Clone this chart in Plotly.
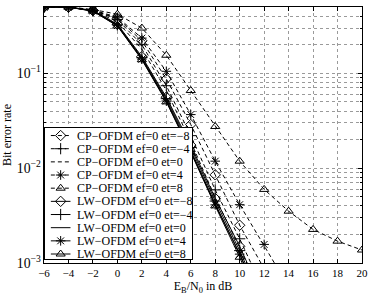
import math
import plotly.graph_objects as go

ebn0 = [-6, -4, -2, 0, 2, 4, 6, 8, 10, 12, 14, 16, 18, 20]

cp_et_m8 = [0.5, 0.5, 0.46, 0.38, 0.22, 0.0873, 0.0288, 0.0085, 0.0025, 0.00087]
cp_et_m4 = [0.5, 0.5, 0.46, 0.37, 0.20, 0.074, 0.022, 0.0059, 0.0018, 0.0005]
cp_et_0 = [0.5, 0.5, 0.458, 0.35, 0.18, 0.066, 0.019, 0.0049, 0.00145, 0.0004]
cp_et_4 = [0.5, 0.5, 0.465, 0.39, 0.235, 0.105, 0.0367, 0.01185, 0.00412, 0.00157, 0.00056]
cp_et_8 = [0.5, 0.5, 0.47, 0.42, 0.30, 0.155, 0.0658, 0.0275, 0.01185, 0.00597,
           0.00352, 0.00226, 0.0017, 0.00137]

lw_et_m8 = [0.5, 0.5, 0.46, 0.33, 0.15, 0.056, 0.0175, 0.0048, 0.0015, 0.0004]
lw_et_m4 = [0.5, 0.5, 0.457, 0.325, 0.146, 0.054, 0.0165, 0.0045, 0.00135, 0.00035]
lw_et_0 = [0.5, 0.499, 0.455, 0.32, 0.143, 0.052, 0.0155, 0.0042, 0.00125, 0.00032]
lw_et_4 = [0.5, 0.499, 0.454, 0.318, 0.141, 0.051, 0.015, 0.0041, 0.00124, 0.0003]
lw_et_8 = [0.5, 0.498, 0.452, 0.315, 0.139, 0.050, 0.0147, 0.0040, 0.00115, 0.00028]

series_names = [
    "CP−OFDM ef=0 et=−8", "CP−OFDM ef=0 et=−4", "CP−OFDM ef=0 et=0",
    "CP−OFDM ef=0 et=4", "CP−OFDM ef=0 et=8",
    "LW−OFDM ef=0 et=−8", "LW−OFDM ef=0 et=−4", "LW−OFDM ef=0 et=0",
    "LW−OFDM ef=0 et=4", "LW−OFDM ef=0 et=8",
]
series_values = [cp_et_m8, cp_et_m4, cp_et_0, cp_et_4, cp_et_8,
                 lw_et_m8, lw_et_m4, lw_et_0, lw_et_4, lw_et_8]
symbols = ["diamond-open", "cross-thin-open", None, "asterisk-open", "triangle-up-open"] * 2
dashes = ["4px,3px"] * 5 + ["solid"] * 5

xticks = [-6, -4, -2, 0, 2, 4, 6, 8, 10, 12, 14, 16, 18, 20]

FONT = "Liberation Serif, Times New Roman, serif"
MSIZE = 8
GRID = dict(showgrid=True, gridcolor="#9a9a9a", griddash="dot", gridwidth=1)

fig = go.Figure()
for name, vals, sym, dash in zip(series_names, series_values, symbols, dashes):
    mode = "lines+markers" if sym else "lines"
    fig.add_trace(go.Scatter(
        x=ebn0[:len(vals)], y=vals, name=name, mode=mode, showlegend=False,
        line=dict(color="black", width=1, dash=dash),
        marker=dict(symbol=sym or "circle", size=MSIZE, color="black",
                    line=dict(color="black", width=1)),
        xaxis="x", yaxis="y",
    ))

# ---- legend drawn as an inset box (rows of 13 px like the original) ----
for row, (name, sym, dash) in enumerate(zip(series_names, symbols, dashes)):
    fig.add_trace(go.Scatter(
        x=[6, 26], y=[row, row], mode="lines", showlegend=False,
        line=dict(color="black", width=1, dash=dash),
        xaxis="x2", yaxis="y2", hoverinfo="skip",
    ))
    if sym:
        fig.add_trace(go.Scatter(
            x=[16], y=[row], mode="markers", showlegend=False,
            marker=dict(symbol=sym, size=MSIZE, color="black",
                        line=dict(color="black", width=1)),
            xaxis="x2", yaxis="y2", hoverinfo="skip",
        ))
    fig.add_annotation(
        x=31, y=row, xref="x2", yref="y2", text=name, showarrow=False,
        xanchor="left", yanchor="middle",
        font=dict(family=FONT, size=12, color="black"),
    )

fig.update_layout(
    width=374, height=298,
    margin=dict(l=40, r=10, t=6, b=35),
    paper_bgcolor="white", plot_bgcolor="white",
    font=dict(family=FONT, size=11, color="black"),
    showlegend=False,
    xaxis=dict(
        range=[-6, 20], tickvals=xticks, **GRID,
        showline=True, linecolor="black", linewidth=1, mirror="allticks",
        ticks="inside", ticklen=4, tickcolor="black",
        zeroline=False, tickfont=dict(family=FONT, size=11),
        title=dict(text="E<sub>B</sub>/N<sub>0</sub> in dB", standoff=2,
                   font=dict(family=FONT, size=12)),
    ),
    yaxis=dict(
        type="log", range=[-3, math.log10(0.5)],
        dtick=1, exponentformat="power", **GRID,
        minor=dict(dtick="D1", ticks="inside", ticklen=2, tickcolor="black",
                   **GRID),
        showline=True, linecolor="black", linewidth=1, mirror="allticks",
        ticks="inside", ticklen=4, tickcolor="black",
        zeroline=False, tickfont=dict(family=FONT, size=11),
        title=dict(text="Bit error rate", standoff=2,
                   font=dict(family=FONT, size=12)),
    ),
    xaxis2=dict(
        domain=[0.003, 0.466], anchor="y2", range=[0, 150],
        showgrid=False, zeroline=False, showticklabels=False, ticks="",
        showline=True, mirror=True, linecolor="black", linewidth=1,
        fixedrange=True,
    ),
    yaxis2=dict(
        domain=[0.0156, 0.529], anchor="x2", range=[9.38, -0.605],
        showgrid=False, zeroline=False, showticklabels=False, ticks="",
        showline=True, mirror=True, linecolor="black", linewidth=1,
        fixedrange=True,
    ),
)

fig.write_html("out.html", config={"displayModeBar": False},
               post_script="document.body.style.margin='0px';")
